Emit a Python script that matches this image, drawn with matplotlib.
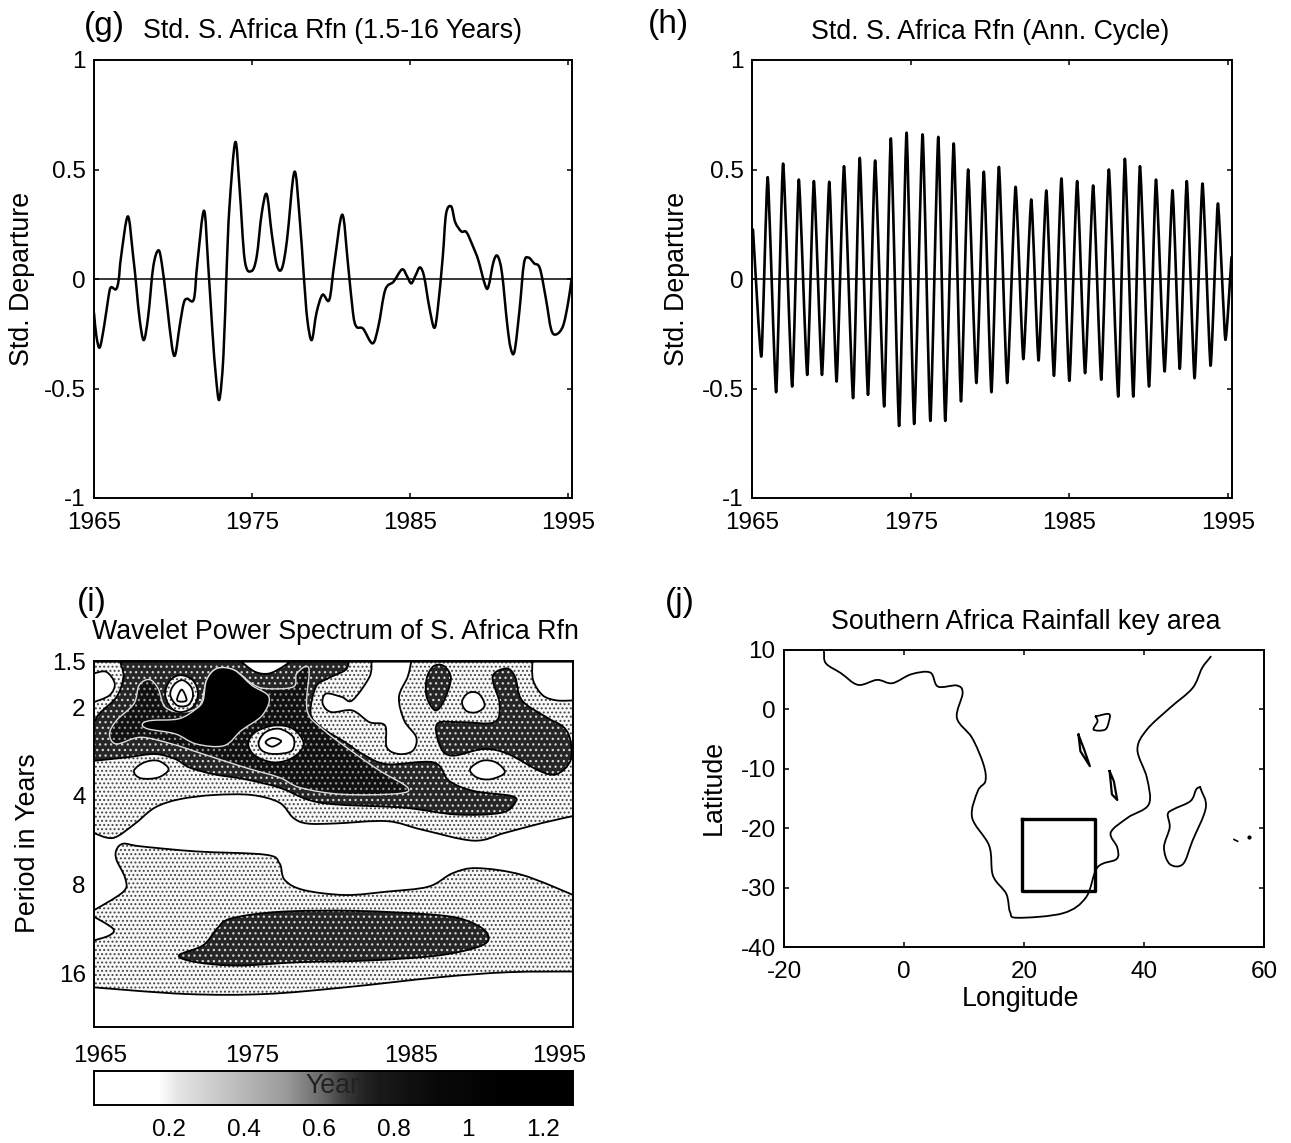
import numpy as np
import matplotlib
matplotlib.use("Agg")
import matplotlib.pyplot as plt
from matplotlib.path import Path
from matplotlib.patches import PathPatch
from matplotlib.transforms import ScaledTranslation

plt.rcParams['font.family'] = ['Liberation Sans', 'DejaVu Sans']
plt.rcParams['hatch.linewidth'] = 0.9
plt.rcParams['axes.unicode_minus'] = False

W, H = 1291, 1143
FS = 17.5
TS = 19.3
PS = 24

# ---------- panel (g)
g_year = [1965.00,1965.15,1965.36,1965.64,1965.92,1966.07,1966.39,1966.56,1966.71,1967.14,1967.46,1967.68,1967.89,1968.15,1968.43,1968.75,1969.07,1969.29,1969.61,1969.93,1970.14,1970.42,1970.68,1970.89,1971.32,1971.54,1971.96,1972.22,1972.50,1972.71,1972.93,1973.19,1973.40,1973.57,1973.94,1974.21,1974.54,1974.96,1975.29,1975.61,1975.93,1976.25,1976.57,1976.89,1977.21,1977.68,1978.01,1978.28,1978.50,1978.78,1979.08,1979.46,1979.89,1980.21,1980.71,1981.07,1981.39,1981.61,1982.03,1982.63,1983.00,1983.43,1983.96,1984.50,1984.82,1985.08,1985.36,1985.63,1985.89,1986.21,1986.53,1986.75,1987.07,1987.28,1987.61,1987.86,1988.25,1988.57,1989.00,1989.32,1989.75,1989.96,1990.28,1990.54,1990.82,1991.14,1991.36,1991.61,1991.93,1992.21,1992.49,1992.86,1993.22,1993.61,1993.93,1994.25,1994.68,1995.00,1995.23]
g_value = [-0.155,-0.26,-0.313,-0.215,-0.08,-0.038,-0.047,-0.005,0.10,0.286,0.116,-0.035,-0.185,-0.279,-0.17,0.056,0.131,0.071,-0.11,-0.306,-0.346,-0.215,-0.11,-0.09,-0.092,0.071,0.312,0.071,-0.245,-0.441,-0.551,-0.351,0.056,0.327,0.625,0.417,0.086,0.036,0.10,0.297,0.387,0.206,0.063,0.048,0.176,0.489,0.282,0.011,-0.185,-0.279,-0.155,-0.072,-0.095,0.071,0.294,0.071,-0.155,-0.218,-0.227,-0.294,-0.215,-0.05,-0.012,0.044,0.011,-0.02,0.018,0.053,0.011,-0.125,-0.223,-0.14,0.10,0.297,0.331,0.259,0.217,0.214,0.146,0.086,-0.027,-0.035,0.078,0.105,0.026,-0.20,-0.313,-0.331,-0.14,0.071,0.098,0.071,0.048,-0.095,-0.23,-0.253,-0.215,-0.11,0.003]

# ---------- panel (h): alternating peaks and troughs of the annual cycle
h_year = [1965.06,1965.59,1965.99,1966.52,1966.96,1967.53,1967.95,1968.48,1968.90,1969.41,1969.87,1970.33,1970.80,1971.37,1971.79,1972.31,1972.76,1973.33,1973.75,1974.27,1974.74,1975.22,1975.75,1976.24,1976.74,1977.18,1977.71,1978.17,1978.62,1979.14,1979.61,1980.09,1980.56,1981.08,1981.61,1982.10,1982.60,1983.06,1983.55,1984.03,1984.50,1985.00,1985.49,1985.99,1986.50,1987.01,1987.49,1988.08,1988.50,1989.03,1989.45,1990.02,1990.46,1991.00,1991.50,1991.96,1992.40,1992.89,1993.39,1993.90,1994.36,1994.83,1995.22]
h_value = [0.226,-0.354,0.465,-0.517,0.527,-0.491,0.454,-0.438,0.447,-0.438,0.444,-0.468,0.515,-0.544,0.553,-0.529,0.541,-0.582,0.642,-0.671,0.668,-0.662,0.660,-0.648,0.649,-0.648,0.619,-0.559,0.50,-0.475,0.49,-0.517,0.512,-0.475,0.421,-0.366,0.363,-0.372,0.404,-0.442,0.459,-0.465,0.447,-0.430,0.427,-0.46,0.50,-0.537,0.549,-0.537,0.515,-0.491,0.454,-0.422,0.405,-0.410,0.447,-0.453,0.436,-0.396,0.345,-0.277,0.10]

# ---------- panel (i): contour outlines, year and log2(period)
band_yr  = [1965.0,1966.2,1967.52,1968.83,1970.36,1972.55,1974.96,1976.71,1977.58,1978.46,1980.21,1983.49,1985.68,1988.97,1990.94,1993.34,1995.25,1995.25,1965.0]
band_oct = [2.415,2.472,2.321,2.132,2.038,1.989,1.989,2.075,2.245,2.309,2.309,2.283,2.377,2.502,2.415,2.302,2.226,0.49,0.49]

hole1_yr  = [1965,1965.77,1966.31,1965.98,1965]
hole1_oct = [.623,.604,.736,.868,.943]
hole2_yr  = [1967.52,1968.17,1969.05,1969.71,1969.05,1967.95]
hole2_oct = [1.717,1.623,1.604,1.698,1.792,1.80]
hole3_yr  = [1982.51,1982.40,1981.31,1980.65,1979.66,1979.44,1979.99,1981.31,1982.40,1983.38,1983.49,1984.26,1985.13,1985.35,1984.59,1984.26,1984.81,1985.03]
hole3_oct = [.49,.66,.925,.887,.849,.962,1.057,1.038,1.17,1.208,1.453,1.528,1.491,1.34,1.151,.887,.66,.49]
hole4_yr  = [1988.24,1988.64,1989.29,1989.67,1989.18,1988.53]
hole4_oct = [.943,.842,.849,.981,1.057,1.045]
hole5_yr  = [1992.69,1992.73,1993.34,1994.22,1995.25,1995.25]
hole5_oct = [.49,.698,.868,.925,.925,.49]
hole6_yr  = [1988.75,1989.51,1990.39,1990.94,1990.06,1989.18]
hole6_oct = [1.698,1.604,1.623,1.736,1.811,1.792]

dark_yr  = [1965.00,1965.33,1966.42,1966.86,1966.64,1981.09,1980.87,1979.77,1979.01,1978.68,1979.34,1980.87,1981.96,1983.49,1986.45,1987.43,1988.97,1991.37,1991.59,1990.72,1987.87,1984.59,1980.21,1978.46,1976.71,1974.52,1972.55,1971.02,1970.14,1968.83,1967.08,1965.0]
dark_oct = [1.189,1.075,.887,.66,.49,.49,.585,.679,.774,1.075,1.226,1.396,1.528,1.642,1.623,1.83,1.943,2.0,2.075,2.189,2.208,2.132,2.094,2.038,1.906,1.811,1.755,1.679,1.585,1.528,1.566,1.604]
crescent_yr  = [1974.30,1975.18,1976.05,1976.93,1977.37]
crescent_oct = [.49,.604,.623,.547,.49]

darker_yr  = [1965.98,1966.42,1967.52,1967.85,1968.50,1969.05,1969.49,1970.58,1971.68,1972.11,1972.77,1973.86,1974.96,1975.83,1977.58,1977.80,1978.57,1978.46,1979.55,1981.52,1983.06,1984.81,1984.15,1980.65,1978.02,1976.71,1974.52,1971.89,1969.92,1967.95,1966.42]
darker_oct = [1.302,1.151,.962,.755,.691,.792,1.0,1.057,.981,.698,.566,.585,.736,.792,.774,.623,.566,1.038,1.264,1.528,1.717,1.906,1.974,1.981,1.906,1.792,1.679,1.528,1.415,1.34,1.415]

core_yr  = [1972.11,1972.77,1973.86,1974.96,1976.05,1975.62,1974.30,1973.21,1971.46,1970.14,1968.39,1968.06,1968.61,1970.36,1971.46,1971.89]
core_oct = [.698,.566,.585,.755,.887,1.094,1.264,1.434,1.415,1.302,1.245,1.189,1.151,1.132,1.019,.925]

ringa1_yr  = [1969.49,1969.82,1970.47,1971.24,1971.57,1971.24,1970.47,1969.82]
ringa1_oct = [.849,.698,.642,.698,.849,1.0,1.057,1.0]
ringa2_yr  = [1969.82,1970.03,1970.58,1971.13,1971.24,1970.91,1970.25]
ringa2_oct = [.868,.755,.698,.774,.887,.981,.981]
ringa3_yr  = [1970.25,1970.54,1970.84]
ringa3_oct = [.925,.804,.925]
ringb1_yr  = [1974.74,1975.18,1976.38,1977.58,1978.24,1977.58,1976.38,1975.18]
ringb1_oct = [1.415,1.283,1.208,1.245,1.415,1.566,1.623,1.547]
ringb2_yr  = [1975.40,1975.83,1976.71,1977.58,1977.48,1976.38,1975.62]
ringb2_oct = [1.396,1.283,1.245,1.34,1.491,1.528,1.491]
ringb3_yr  = [1975.83,1976.27,1976.82,1976.27]
ringb3_oct = [1.396,1.347,1.385,1.445]

oval_yr  = [1986.01,1986.45,1987.11,1987.54,1987.11,1986.56,1986.01]
oval_oct = [.679,.54,.54,.679,.925,1.038,.887]
right_yr  = [1990.17,1991.05,1991.59,1992.03,1993.56,1994.66,1995.09,1995.09,1994.22,1993.12,1991.15,1989.62,1987.65,1986.89,1986.67,1988.20,1990.28,1990.61]
right_oct = [.66,.566,.66,.925,1.113,1.226,1.377,1.604,1.755,1.717,1.528,1.472,1.547,1.453,1.189,1.17,1.17,.962]

low_yr  = [1966.42,1966.86,1967.95,1971.46,1975.83,1976.71,1977.04,1978.24,1980.87,1983.49,1986.12,1987.65,1989.18,1992.03,1995.25,1995.25,1991.15,1986.78,1980.87,1975.83,1970.8,1965,1965,1965.98,1966.2,1965,1965,1966.86,1966.97,1966.42]
low_oct = [2.604,2.536,2.566,2.623,2.66,2.755,2.943,3.057,3.113,3.075,3.019,2.868,2.811,2.887,3.113,3.974,3.981,4.038,4.151,4.226,4.226,4.151,3.623,3.566,3.491,3.358,3.283,3.075,2.925,2.717]
lowcore_yr  = [1970.36,1971.89,1972.77,1973.65,1976.71,1981.52,1986.78,1988.75,1989.84,1989.51,1986.78,1982.40,1978.02,1974.08,1971.46]
lowcore_oct = [3.792,3.679,3.491,3.377,3.302,3.291,3.34,3.415,3.547,3.679,3.792,3.849,3.868,3.906,3.868]

# colour bar
bar_levels = [0,0,0,0,0.1,0.15,0.2,0.25,0.3,0.35,0.4,0.5,0.6,0.75,0.85,0.9,0.92,0.94,0.96,0.97,0.98,0.99,1,1,1,1]
bar_ticks = [0.2,0.4,0.6,0.8,1.0,1.2]
bar_labels = ['0.2','0.4','0.6','0.8','1','1.2']

# ---------- panel (j)
coast_lon = [-13.35,-13.03,-10.5,-7.65,-4.48,-1.95,1.22,4.38,5.65,8.82,9.77,8.82,11.35,13.25,13.57,12.30,11.35,14.2,14.83,17.05,17.68,18.95,26.55,30.35,32.25,35.42,35.54,34.46,37.31,40.80,40.48,38.90,40.48,44.28,48.08,49.66,51.12]
coast_lat = [9.83,7.77,6.09,4.13,4.97,4.41,5.92,6.2,3.85,4.02,2.74,-1.45,-4.8,-9.27,-12.07,-13.74,-18.21,-22.96,-27.99,-31.06,-34.13,-35.08,-34.30,-31.62,-26.59,-25.2,-23.24,-20.73,-18.21,-15.98,-11.51,-6.76,-3.41,0.22,3.58,6.93,8.88]
madag_lon = [49.35,50.30,48.08,46.50,44.28,43.33,44.28,43.96,44.91,47.76,48.71,49.35]
madag_lat = [-13.07,-16.54,-22.12,-26.03,-26.03,-23.24,-19.89,-17.65,-16.82,-15.42,-13.46,-13.07]
victoria_lon = [31.93,34.15,34.15,33.51,31.61,32.25,31.93]
victoria_lat = [-1.17,-0.78,-2.01,-3.41,-3.41,-2.01,-1.17]
tanganyika_lon = [29.08,29.40,30.98,30.03,29.08]
tanganyika_lat = [-4.25,-7.04,-9.55,-6.76,-4.25]
malawi_lon = [34.27,34.65,35.54,34.97,34.27]
malawi_lat = [-10.39,-14.30,-15.25,-12.07,-10.39]
islet_lon = [55.0,55.6]
islet_lat = [-21.9,-22.2]
mauritius_lon = [57.58]
mauritius_lat = [-21.45]
box_lon = [19.6,31.9,31.9,19.6,19.6]
box_lat = [-18.5,-18.5,-30.5,-30.5,-18.5]

year_ticks = [1965,1975,1985,1995]
std_ticks = [-1,-0.5,0,0.5,1]
std_labels = ['-1','-0.5','0','0.5','1']
period_ticks = [1.4,2,4,8,16]
period_labels = ['1.5','2','4','8','16']
lon_ticks = [-20,0,20,40,60]
lat_ticks = [-40,-30,-20,-10,0,10]

fig = plt.figure(figsize=(W/100, H/100), dpi=100, facecolor='white')


def bezier_path(x, y, closed=False, k=1/6, sharp=None):
    """Smooth curve drawn through every given point."""
    x = np.asarray(x, float); y = np.asarray(y, float)
    n = len(x)
    if closed:
        tx = np.roll(x, -1) - np.roll(x, 1)
        ty = np.roll(y, -1) - np.roll(y, 1)
    else:
        tx = np.gradient(x, edge_order=1) * 2
        ty = np.gradient(y, edge_order=1) * 2
    if sharp is not None:
        tx = np.where(sharp, 0, tx); ty = np.where(sharp, 0, ty)
    verts = [(x[0], y[0])]
    codes = [Path.MOVETO]
    m = n if closed else n - 1
    for i in range(m):
        j = (i + 1) % n
        verts += [(x[i] + k*tx[i], y[i] + k*ty[i]),
                  (x[j] - k*tx[j], y[j] - k*ty[j]),
                  (x[j], y[j])]
        codes += [Path.CURVE4] * 3
    return np.array(verts), codes


def curve(ax, x, y, closed=False, k=1/6, lw=1.3, **kw):
    v, c = bezier_path(x, y, closed=closed, k=k)
    ax.add_patch(PathPatch(Path(v, c), fill=False, edgecolor='k', lw=lw,
                           joinstyle='round', capstyle='round', **kw))


def make_axes(x0, x1, y0, y1):
    ax = fig.add_axes([x0/W, 1-y1/H, (x1-x0)/W, (y1-y0)/H])
    for s in ax.spines.values():
        s.set_linewidth(1.4)
    ax.tick_params(direction='in', top=True, right=True, length=3.5, width=1.1,
                   labelsize=FS, pad=6)
    ax.tick_params(axis='x', pad=10)
    return ax


def label(x, y, s, size=TS, **kw):
    fig.text(x/W, 1-y/H, s, fontsize=size, ha='center', va='center', **kw)


# (g)
ax = make_axes(94, 572, 60, 498)
curve(ax, g_year, g_value, lw=1.8)
ax.axhline(0, color='k', lw=1.1)
ax.set_xlim(1965, 1995.25); ax.set_ylim(-1, 1)
ax.set_xticks(year_ticks); ax.set_yticks(std_ticks, std_labels)
label(22, 279, 'Std. Departure', rotation=90)
label(333, 31, 'Std. S. Africa Rfn (1.5-16 Years)')
label(104, 27, '(g)', size=PS)

# (h)
ax = make_axes(752, 1232, 60, 498)
curve(ax, h_year, h_value, k=1/12, lw=1.9)
ax.axhline(0, color='k', lw=1.1)
ax.set_xlim(1965, 1995.25); ax.set_ylim(-1, 1)
ax.set_xticks(year_ticks); ax.set_yticks(std_ticks, std_labels)
label(677, 279, 'Std. Departure', rotation=90)
label(990, 32, 'Std. S. Africa Rfn (Ann. Cycle)')
label(668, 25, '(h)', size=PS)

# (i)
ax = make_axes(94, 573, 661, 1027)
ax.set_yscale('log', base=2)
ax.set_xlim(1965, 1995.25); ax.set_ylim(24.2, 1.397)


def region(xs, ys, face, hatch=None, hcolor='k', z=1, lw=1.3, line='k'):
    xs = np.array(xs, float); ys = np.array(ys, float)
    on_edge = (xs <= 1965) | (xs >= 1995.25) | (ys <= 0.49)
    v, c = bezier_path(xs, ys, closed=True, sharp=on_edge)
    v = np.column_stack([v[:, 0], np.power(2.0, v[:, 1])])
    p = Path(v, c)
    ax.add_patch(PathPatch(p, facecolor=face, edgecolor=hcolor if hatch else 'none',
                           hatch=hatch, lw=0, zorder=z))
    ax.add_patch(PathPatch(p, fill=False, edgecolor=line, lw=lw, zorder=z+0.1))


LIGHT = dict(face='#f8f8f8', hatch='....', hcolor='#444444')
DARK = dict(face='#262626', hatch='...', hcolor='#d8d8d8')
DARKER = dict(face='#101010', hatch='...', hcolor='#999999')

region(band_yr, band_oct, z=1, **LIGHT)
for xs, ys in [(hole1_yr, hole1_oct), (hole2_yr, hole2_oct), (hole3_yr, hole3_oct),
               (hole4_yr, hole4_oct), (hole5_yr, hole5_oct), (hole6_yr, hole6_oct)]:
    region(xs, ys, 'white', z=2)
region(low_yr, low_oct, z=1, **LIGHT)
region(lowcore_yr, lowcore_oct, z=3, **DARK)
region(dark_yr, dark_oct, z=3, **DARK)
region(crescent_yr, crescent_oct, 'white', z=4)
region(oval_yr, oval_oct, z=3, **DARK)
region(right_yr, right_oct, z=3, **DARK)
region(darker_yr, darker_oct, z=5, line='#dddddd', lw=1.0, **DARKER)
region(core_yr, core_oct, 'black', z=6, line='#dddddd', lw=1.0)
region(ringa1_yr, ringa1_oct, z=7, **LIGHT)
region(ringa2_yr, ringa2_oct, 'white', z=8)
region(ringa3_yr, ringa3_oct, 'white', z=9)
region(ringb1_yr, ringb1_oct, z=7, **LIGHT)
region(ringb2_yr, ringb2_oct, 'white', z=8)
region(ringb3_yr, ringb3_oct, 'white', z=9)

ax.set_xticks(year_ticks)
ax.set_yticks(period_ticks, period_labels)
ax.minorticks_off()
ax.tick_params(axis='y', length=0)
ax.tick_params(axis='x', length=0, pad=13)
labs = ax.get_xticklabels()
labs[0].set_transform(labs[0].get_transform() + ScaledTranslation(6/100, 0, fig.dpi_scale_trans))
labs[-1].set_transform(labs[-1].get_transform() + ScaledTranslation(-10/100, 0, fig.dpi_scale_trans))
for s in ax.spines.values():
    s.set_zorder(20)
label(28, 843, 'Period in Years', rotation=90)
label(335, 632, 'Wavelet Power Spectrum of S. Africa Rfn')
label(92, 603, '(i)', size=PS)

# colour bar
cax = make_axes(94, 573, 1071, 1105)
cax.imshow(np.array(bar_levels, float)[None, :], cmap='gray_r', vmin=0, vmax=1, aspect='auto',
           extent=[0, 1.28, 0, 1], interpolation='bilinear')
cax.set_yticks([])
cax.set_xticks(bar_ticks, bar_labels)
cax.tick_params(axis='x', top=False, right=False, length=0, pad=10)
label(332, 1086, 'Year', color='#222222')

# (j)
ax = make_axes(784, 1264, 650, 947)
curve(ax, coast_lon, coast_lat)
curve(ax, madag_lon, madag_lat)
curve(ax, victoria_lon, victoria_lat)
ax.plot(tanganyika_lon, tanganyika_lat, color='k', lw=1.6)
ax.plot(malawi_lon, malawi_lat, color='k', lw=1.6)
ax.plot(islet_lon, islet_lat, color='k', lw=1.2)
ax.plot(mauritius_lon, mauritius_lat, 'o', color='k', ms=2)
ax.plot(box_lon, box_lat, color='k', lw=2.4)
ax.set_xlim(-20, 60); ax.set_ylim(-40, 10)
ax.set_xticks(lon_ticks); ax.set_yticks(lat_ticks)
label(714, 787, 'Latitude', rotation=90)
label(1021, 999, 'Longitude')
label(1026, 622, 'Southern Africa Rainfall key area')
label(680, 603, '(j)', size=PS)

fig.savefig('out.png', dpi=100, facecolor='white')
